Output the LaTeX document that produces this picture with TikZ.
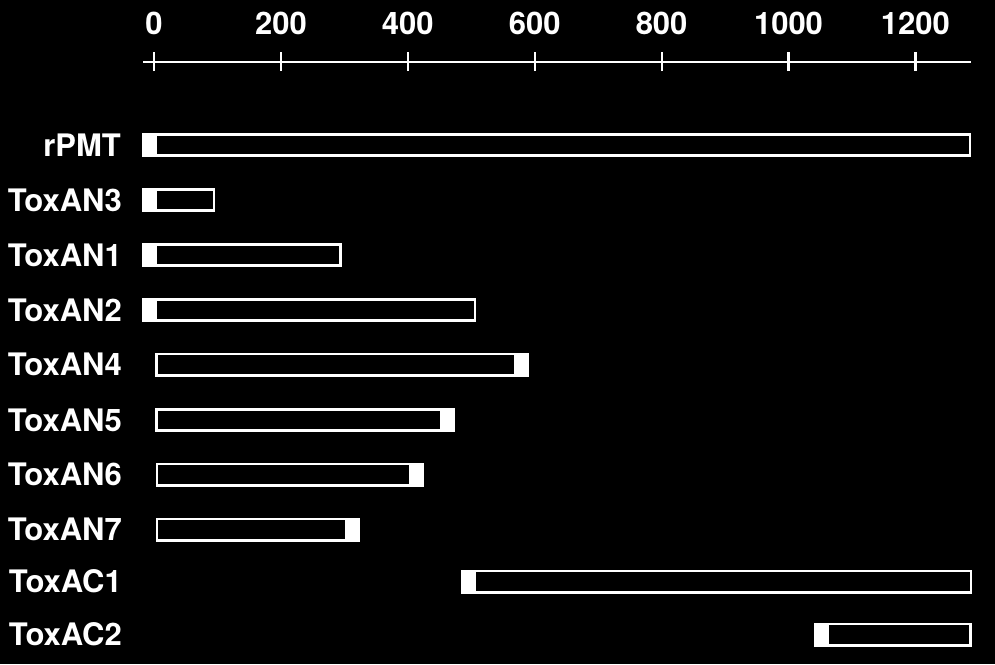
\documentclass[tikz,border=0pt]{standalone}
\usepackage{fontspec}
\setmainfont{TeX Gyre Heros}

\begin{document}
\begin{tikzpicture}[
    x=1pt, y=-1pt,
    every node/.style={text=white, font=\fontsize{31}{31}\selectfont\bfseries, inner sep=0pt},
    frame/.style={draw=white, line width=2.6pt},
    endfill/.style={fill=white},
    tag/.style={anchor=east}
]

% ================= background =================

\fill[black] (0,0) rectangle (995,664);
\useasboundingbox (0,0) rectangle (995,664);

% ================= scale =================

\draw[white, line width=2.4pt] (143,62) -- (971,62);

\foreach \v [count=\k from 0] in {0,200,400,600,800,1000,1200} {
    \coordinate (t\k) at (154+126.9*\k,62);
    \draw[white, line width=2.2pt] ([yshift=-9]t\k) -- ([yshift=10]t\k);
    \node (n\k) at (154+126.9*\k,23) {\v};
}

% ================= labels =================

\node[tag] (rpmt) at (121,145) {rPMT};
\node[tag] (an3) at (122,200) {ToxAN3};
\node[tag] (an1) at (122,255) {ToxAN1};
\node[tag] (an2) at (122,310) {ToxAN2};
\node[tag] (an4) at (122,364.5) {ToxAN4};
\node[tag] (an5) at (122,420) {ToxAN5};
\node[tag] (an6) at (122,474.5) {ToxAN6};
\node[tag] (an7) at (122,529.5) {ToxAN7};
\node[tag] (ac1) at (122,581.5) {ToxAC1};
\node[tag] (ac2) at (122,634.5) {ToxAC2};

% ================= bars =================

% rPMT
\fill[endfill] (142,133) rectangle (157,157);
\draw[frame] (143.3,134.3) rectangle (970,155.7);

% ToxAN3
\fill[endfill] (142,188) rectangle (157,212);
\draw[frame] (143.3,189.3) rectangle (214,210.7);

% ToxAN1
\fill[endfill] (142,243) rectangle (157,267);
\draw[frame] (143.3,244.3) rectangle (340.5,265.7);

% ToxAN2
\fill[endfill] (142,298) rectangle (157,322);
\draw[frame] (143.3,299.3) rectangle (475,320.7);

% ToxAN4
\fill[endfill] (513.5,352.5) rectangle (528.5,376.5);
\draw[frame] (156.3,353.8) rectangle (527.2,375.2);

% ToxAN5
\fill[endfill] (439.5,408) rectangle (454.5,432);
\draw[frame] (156.3,409.3) rectangle (453.2,430.7);

% ToxAN6
\fill[endfill] (408.5,462.5) rectangle (423.5,486.5);
\draw[frame] (156.8,463.8) rectangle (422.2,485.2);

% ToxAN7
\fill[endfill] (344.5,517.5) rectangle (359.5,541.5);
\draw[frame] (156.8,518.8) rectangle (358.2,540.2);

% ToxAC1
\fill[endfill] (461,569.5) rectangle (476,593.5);
\draw[frame] (462.3,570.8) rectangle (971,592.2);

% ToxAC2
\fill[endfill] (813.5,622.5) rectangle (828.5,646.5);
\draw[frame] (814.8,623.8) rectangle (970.5,645.2);

\end{tikzpicture}
\end{document}
